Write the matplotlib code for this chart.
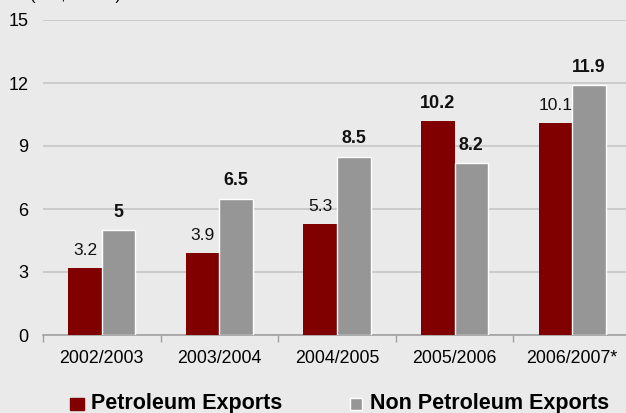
import numpy as np
from matplotlib import pyplot as plt

# Data
years = ["2002/2003", "2003/2004", "2004/2005", "2005/2006", "2006/2007*"]
petroleum = [3.2, 3.9, 5.3, 10.2, 10.1]
non_petroleum = [5, 6.5, 8.5, 8.2, 11.9]
petroleum_bold = [False, False, False, True, False]

plt.rcParams['font.family'] = ['Liberation Sans', 'DejaVu Sans']
bg = '#EAEAEA'
red = '#800000'
grey = '#969696'

fig = plt.figure(figsize=(6.26, 4.13), dpi=100, facecolor=bg)
ax = fig.add_axes([43 / 626, 78 / 413, 588 / 626, 315 / 413], facecolor=bg)

x = np.arange(len(years))
w = 0.285
b1 = ax.bar(x - w / 2, petroleum, w, color=red, zorder=3)
b2 = ax.bar(x + w / 2, non_petroleum, w, color=grey, edgecolor='white', linewidth=1, zorder=3)

for rect, v, bold in zip(b1, petroleum, petroleum_bold):
    ax.annotate(f"{v:g}", (rect.get_x() + rect.get_width() / 2, v), xytext=(0, 9.4),
                textcoords='offset points', ha='center', va='baseline',
                fontsize=13 if bold else 12.5,
                fontweight='bold' if bold else 'normal', color='#111111', zorder=4)
for rect, v in zip(b2, non_petroleum):
    ax.annotate(f"{v:g}", (rect.get_x() + rect.get_width() / 2, v), xytext=(0, 9.4),
                textcoords='offset points', ha='center', va='baseline', fontsize=12.8,
                fontweight='bold', color='#111111', zorder=4)

ax.set_xlim(-0.5, len(years) - 0.5)
ax.set_ylim(0, 15)
ax.set_yticks([0, 3, 6, 9, 12, 15])
ax.yaxis.grid(True, color='#C8C8C8', linewidth=1.3, zorder=0)
ax.tick_params(axis='y', length=0, pad=10.5, labelsize=13)

ax.set_xticks(x)
ax.set_xticklabels(years, fontsize=12.8)
ax.set_xticks(np.arange(len(years) + 1) - 0.5, minor=True)
ax.tick_params(axis='x', which='major', length=0, pad=10.5)
ax.tick_params(axis='x', which='minor', length=5, color='#A0A0A0', width=1)
for s in ['left', 'right', 'top']:
    ax.spines[s].set_visible(False)
ax.spines['bottom'].set_color('#A0A0A0')
ax.spines['bottom'].set_linewidth(1.2)

fig.text(30 / 626, 1.0, "(US$ billion)", fontsize=12, ha='left', va='baseline')

# legend
fig.patches.append(plt.Rectangle((70 / 626, 3 / 413), 14 / 626, 12 / 413, color=red,
                                 transform=fig.transFigure, figure=fig))
fig.text(91 / 626, 10 / 413, "Petroleum Exports", fontsize=15.5, fontweight='bold', va='center')
fig.patches.append(plt.Rectangle((350 / 626, 3 / 413), 12 / 626, 12 / 413, facecolor=grey,
                                 edgecolor='white', linewidth=1,
                                 transform=fig.transFigure, figure=fig))
fig.text(370 / 626, 10 / 413, "Non Petroleum Exports", fontsize=15.5, fontweight='bold', va='center')

fig.savefig('out.png', dpi=100, facecolor=bg)
